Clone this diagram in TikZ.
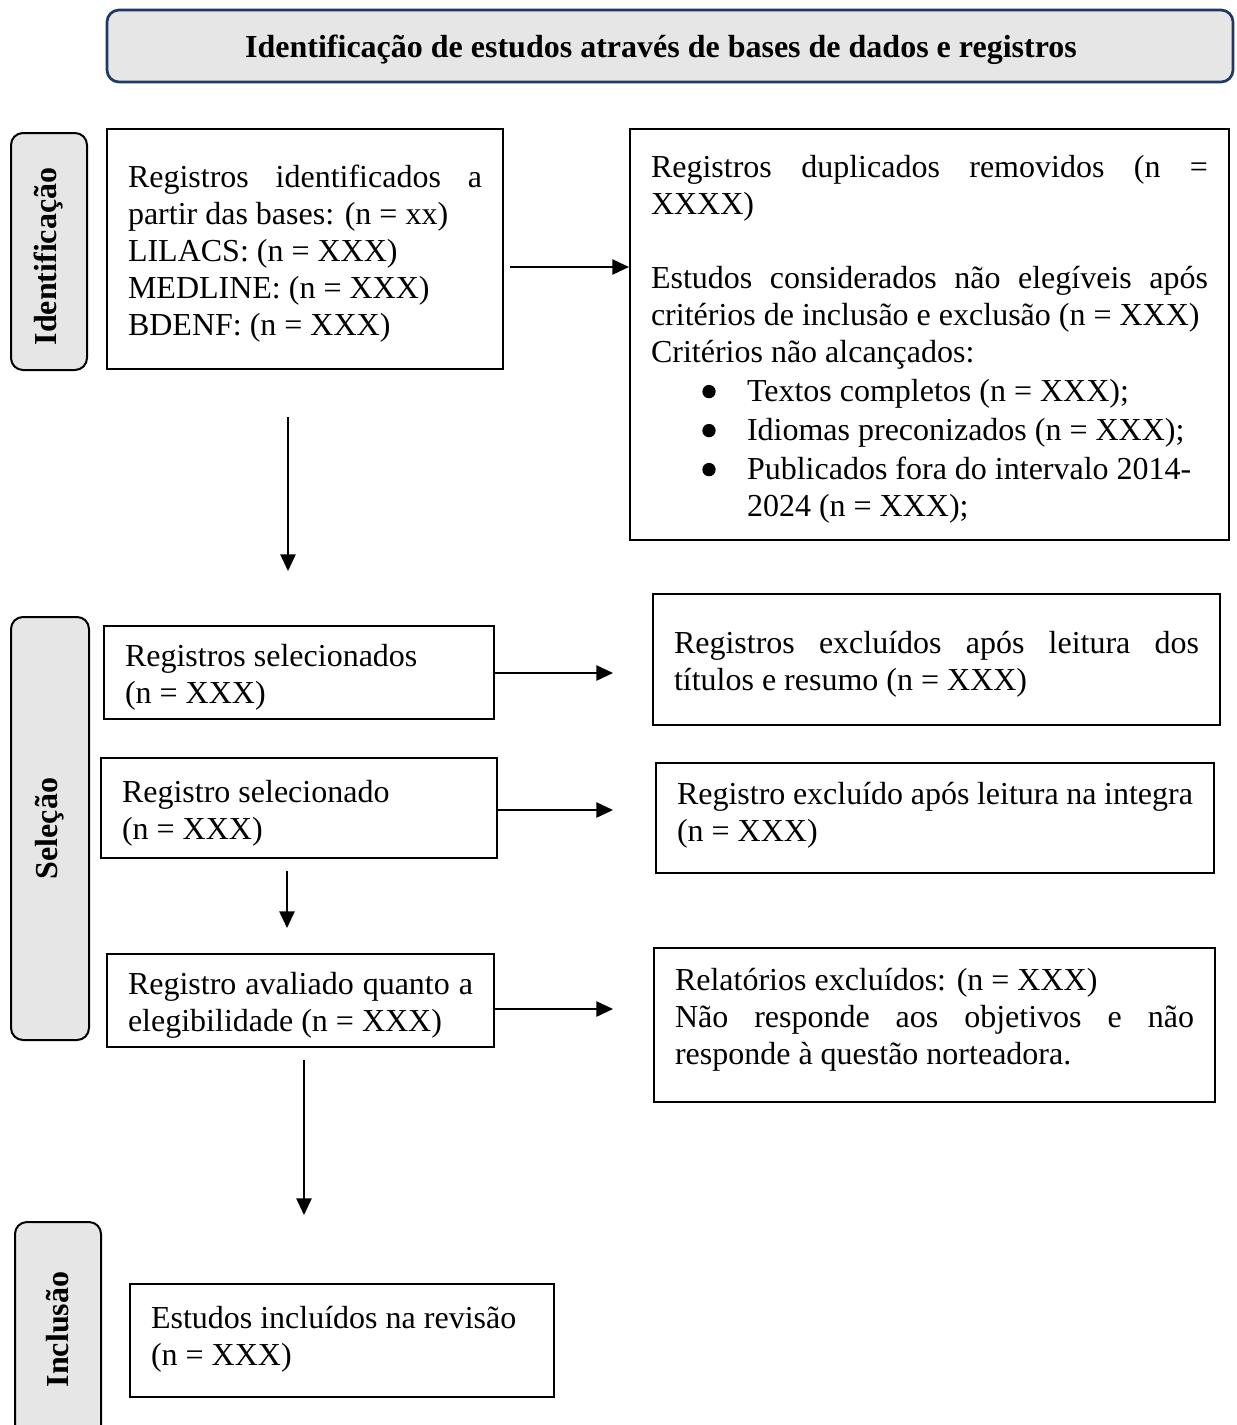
\documentclass[tikz,border=0pt]{standalone}
\usepackage{fontspec}
\setmainfont{Liberation Serif}
\usetikzlibrary{arrows.meta}
\definecolor{hdrblue}{HTML}{1F3864}
\definecolor{lightgr}{HTML}{E6E6E6}
\newcommand{\bigbul}{\tikz[baseline=-7.5pt]\fill (0,0) circle (5pt);}
\begin{document}
\begin{tikzpicture}[x=0.75pt,y=-0.75pt,
  every node/.style={font=\fontsize{24}{27.75}\selectfont},
  box/.style={draw, line width=1.6pt, inner xsep=15.75pt, inner ysep=0pt, align=justify, anchor=center,
    execute at begin node={\rule{0pt}{24pt}}},
  sidebox/.style={draw, line width=1.5pt, fill=lightgr, rounded corners=9pt, rotate=90, inner sep=0pt, font=\fontsize{24}{27.75}\selectfont\bfseries},
  conn/.style={line width=1.2pt, -{Triangle[length=12.5pt,width=11.5pt]}}]
\useasboundingbox (0,0) rectangle (1237,1425);

% header
\node[draw=hdrblue, line width=2pt, fill=lightgr, rounded corners=9pt, minimum width=844.5pt, minimum height=54pt, inner sep=0pt, font=\fontsize{24}{27.75}\selectfont\bfseries] (hdr) at (670,46) {\rule{0pt}{22.5pt}Identificação de estudos através de bases de dados e registros\hspace*{13.5pt}};

% side labels
\node[sidebox, minimum width=177.75pt, minimum height=57pt] (s1) at (49,251.5) {Identificação\hspace*{7.5pt}};
\node[sidebox, minimum width=317.25pt, minimum height=58.5pt] (s2) at (50,828.5) {Seleção};
\node[sidebox, minimum width=167.25pt, minimum height=64.5pt] (s3) at (58,1333.5) {\hspace*{6pt}Inclusão};

% boxes
\node[box, text width=265.5pt, minimum height=180pt] (b1) at (305,249)
 {Registros identificados a\linebreak partir das bases: (n = xx)\\ LILACS: (n = XXX)\\ MEDLINE: (n = XXX)\\ BDENF: (n = XXX)};

\node[box, text width=417.75pt, minimum height=308.25pt] (b2) at (929.5,334.5)
 {Registros duplicados removidos (n =\linebreak XXXX)\\[27.75pt]
  Estudos considerados não elegíveis após\linebreak critérios de inclusão e exclusão (n = XXX)\\
  Critérios não alcançados:\\[1.5pt]
  \hspace*{37.5pt}\makebox[34.5pt][l]{\hspace*{1pt}\bigbul}Textos completos (n = XXX);\\[1.5pt]
  \hspace*{37.5pt}\makebox[34.5pt][l]{\hspace*{1pt}\bigbul}Idiomas preconizados (n = XXX);\\[1.5pt]
  \hspace*{37.5pt}\makebox[34.5pt][l]{\hspace*{1pt}\bigbul}Publicados fora do intervalo 2014-\\
  \hspace*{72pt}2024 (n = XXX);};

\node[box, text width=261pt, minimum height=69.75pt] (b3) at (299,672.5)
 {Registros selecionados\\ (n = XXX)};
\node[box, text width=393.75pt, minimum height=98.25pt] (b4) at (936.5,659.5)
 {Registros excluídos após leitura dos\linebreak títulos e resumo (n = XXX)};

\node[box, text width=265.5pt, minimum height=75pt] (b5) at (299,808)
 {Registro selecionado\\ (n = XXX)};
\node[box, text width=387pt, minimum height=82.5pt] (b6) at (935,818)
 {Registro excluído após leitura na integra\\ (n = XXX)\rule[-16pt]{0pt}{1pt}};

\node[box, text width=258.75pt, minimum height=69.75pt] (b7) at (300.5,1000.5)
 {Registro avaliado quanto a\linebreak elegibilidade (n = XXX)};
\node[box, text width=389.25pt, minimum height=115.5pt] (b8) at (934.5,1025)
 {Relatórios excluídos: (n = XXX)\\ Não responde aos objetivos e não\linebreak responde à questão norteadora.\rule[-20pt]{0pt}{1pt}};

\node[box, text width=286.5pt, minimum height=84.75pt] (b9) at (342,1340.5)
 {Estudos incluídos na revisão\\ (n = XXX)\rule[-15pt]{0pt}{1pt}};

% connector end points
\coordinate (a1s) at (510,267);
\coordinate (a2s) at (288,417);
\coordinate (a2e) at (288,571);
\coordinate (a3e) at (613,673);
\coordinate (a4s) at (497,810);
\coordinate (a4e) at (613,810);
\coordinate (a5s) at (287,871);
\coordinate (a5e) at (287,928);
\coordinate (a6s) at (494,1009);
\coordinate (a6e) at (613,1009);
\coordinate (a7s) at (304,1060);
\coordinate (a7e) at (304,1215);

% connectors
\draw[conn] (a1s) -- (a1s -| b2.west);
\draw[conn] (a2s) -- (a2e);
\draw[conn] (b3.east |- a3e) -- (a3e);
\draw[conn] (a4s) -- (a4e);
\draw[conn] (a5s) -- (a5e);
\draw[conn] (a6s) -- (a6e);
\draw[conn] (a7s) -- (a7e);
\end{tikzpicture}
\end{document}
